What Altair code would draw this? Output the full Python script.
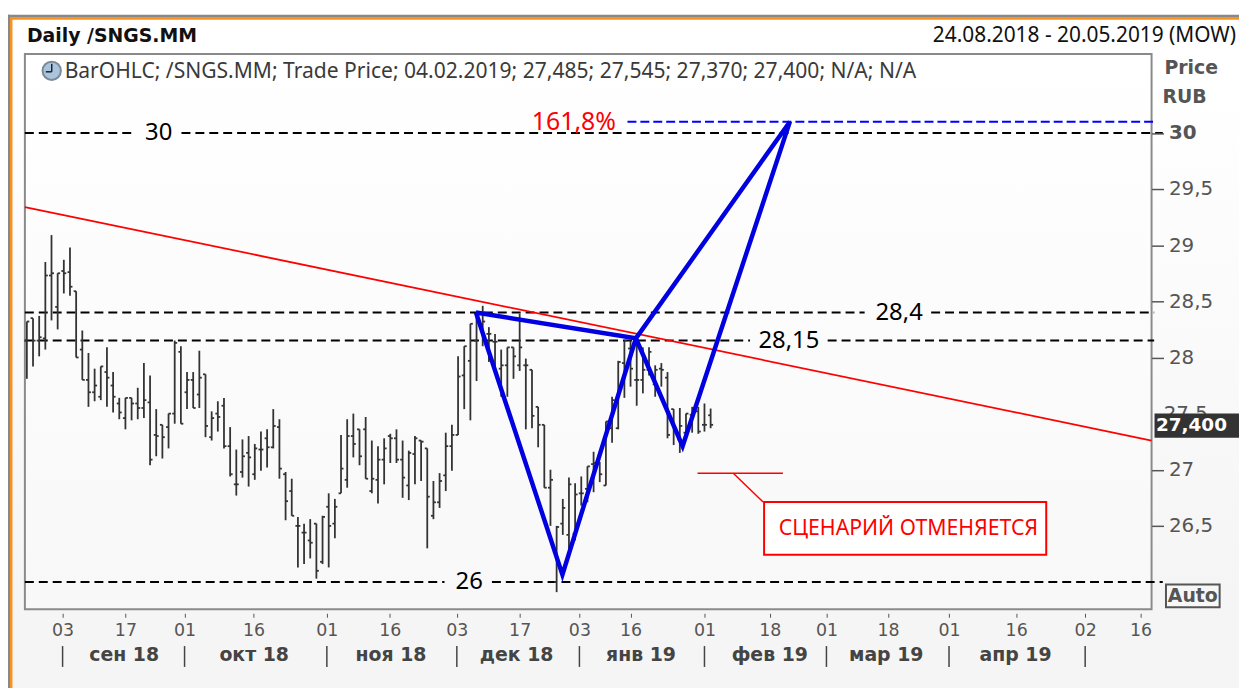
import altair as alt
import pandas as pd

# --- OHLC values (sessions 0..111) ---
opens = [28.15,28.35,28.15,28.17,28.73,28.45,28.77,28.76,28.59,28.07,27.80,27.69,27.65,27.87,27.75,27.59,27.46,27.64,27.59,27.55,
         27.60,27.31,27.40,27.38,27.50,28.05,27.69,27.80,27.67,27.85,27.29,27.50,27.57,27.21,26.87,26.98,27.15,26.96,27.18,27.28,
         27.20,27.38,26.96,26.81,26.50,26.44,26.37,26.52,26.18,26.67,26.52,26.79,26.91,27.30,27.36,27.36,26.81,26.91,27.09,27.30,
         27.28,27.09,26.86,27.14,27.26,27.19,26.59,26.71,26.95,27.21,27.31,27.84,27.97,28.15,28.39,28.21,28.14,27.90,27.93,28.09,
         27.93,27.93,27.89,27.56,27.40,26.84,26.00,26.52,26.42,26.43,26.79,26.83,27.05,27.06,26.86,27.37,27.37,27.95,28.08,27.80,
         27.80,27.89,27.76,27.90,27.82,27.54,27.27,27.33,27.49,27.52,27.40,27.485]
highs = [28.32,28.35,28.37,28.85,29.09,28.75,28.87,28.98,28.59,28.24,28.04,27.90,27.92,28.09,27.87,27.64,27.64,27.64,27.73,27.95,
         27.84,27.54,27.40,27.50,28.15,28.10,27.87,27.87,28.06,27.85,27.52,27.61,27.64,27.38,27.18,27.27,27.30,27.23,27.34,27.36,
         27.54,27.45,26.98,26.92,26.58,26.52,26.56,26.52,26.59,26.79,26.74,27.31,27.45,27.50,27.36,27.47,27.26,27.21,27.28,27.32,
         27.36,27.26,27.17,27.30,27.26,27.19,26.90,26.97,27.33,27.40,28.01,28.10,28.30,28.40,28.46,28.27,28.21,28.07,28.09,28.09,
         28.39,27.99,27.89,27.56,27.40,27.00,26.50,26.74,26.93,26.88,26.94,27.03,27.16,27.07,27.43,27.65,27.97,28.15,28.15,28.15,
         28.09,28.09,27.93,27.95,27.87,27.54,27.55,27.50,27.56,27.56,27.59,27.545]
lows = [27.81,27.92,28.01,28.07,28.33,28.25,28.57,28.55,28.00,27.80,27.56,27.61,27.62,27.56,27.51,27.45,27.36,27.44,27.45,27.46,
        27.04,27.12,27.10,27.19,27.41,27.41,27.54,27.55,27.55,27.29,27.26,27.34,27.19,26.94,26.77,26.93,26.85,26.91,26.99,27.02,
        27.19,26.92,26.55,26.59,26.13,26.16,26.21,26.03,26.16,26.13,26.39,26.79,26.84,27.11,27.04,26.92,26.79,26.70,26.87,27.06,
        27.06,26.75,26.73,26.87,26.90,26.30,26.56,26.66,26.81,26.99,27.31,27.54,27.44,27.79,28.10,27.96,27.90,27.65,27.65,27.81,
        27.88,27.36,27.37,27.20,26.84,26.50,25.91,26.42,26.27,26.37,26.68,26.71,26.80,26.89,26.86,27.24,27.36,27.64,27.74,27.57,
        27.68,27.84,27.65,27.74,27.28,27.22,27.15,27.27,27.33,27.32,27.34,27.37]
closes = [28.32,28.15,28.18,28.73,28.75,28.75,28.75,28.63,28.00,27.80,27.69,27.75,27.92,27.82,27.65,27.51,27.64,27.59,27.55,27.62,
          27.09,27.30,27.29,27.50,28.13,27.41,27.80,27.55,27.82,27.39,27.46,27.47,27.21,26.96,26.87,27.12,27.11,27.19,27.18,27.20,
          27.39,27.01,26.72,26.59,26.50,26.44,26.35,26.10,26.58,26.50,26.67,27.01,27.30,27.23,27.12,26.92,26.92,27.09,27.19,27.28,
          27.09,26.93,27.15,27.28,27.25,26.76,26.71,26.90,27.21,27.31,27.83,28.10,28.30,28.40,28.32,28.21,28.14,27.93,28.09,28.01,
          28.09,27.93,27.48,27.40,26.84,26.91,26.49,26.66,26.87,26.78,26.79,27.03,27.06,26.96,27.43,27.62,27.96,28.15,27.90,27.80,
          27.89,28.05,27.89,27.89,27.31,27.37,27.39,27.50,27.52,27.34,27.40,27.40]
sessions = list(range(len(opens)))

# --- axes ---
day_ticks = [5.8,16,25.6,36.8,48.7,58.9,69.8,80,89.7,98,110,120.6,129.8,139.8,149.7,160.6,171.8,180.8]
day_labels = ["03","17","01","16","01","16","03","17","03","16","01","18","01","18","01","16","02","16"]
month_seps = [5.8,25.6,48.7,69.8,89.7,110,129.8,149.7,171.8]
month_centers = [15.8,36.9,59.1,79.5,99.7,120.6,139.5,160.5]
month_labels = ["сен 18","окт 18","ноя 18","дек 18","янв 19","фев 19","мар 19","апр 19"]
price_ticks = [26.5,27,28,28.5,29,29.5,30]
hidden_tick = [27.5]
hidden_tick_text = ["27,5"]

# --- drawn levels ---
level_price = [30,30,28.4,28.4,28.15,28.15,26,26]
level_from = [-0.32,25.1,-0.32,146.8,-0.32,130,-0.32,75.5]
level_to = [17.6,184.4,136,183,117.4,183,67.8,184.4]
level_text = ["30","28,4","28,15","26"]
level_text_x = [21.4,141.6,123.7,71.8]
level_text_y = [30,28.4,28.15,26]

trend_x = [-0.32,182.58]
trend_y = [29.34,27.26]
wave_x = [72.9,86.94,98.87,123.87,106.45,98.87,72.9]
wave_y = [28.4,26.066,28.17,30.10,27.21,28.17,28.4]
fib_x = [97.5,183]
fib_y = [30.10,30.10]

XD = [-0.32,182.58]
YD = [25.757,30.7035]
xs = alt.Scale(domain=XD, nice=False, zero=False)
ys = alt.Scale(domain=YD, nice=False, zero=False)
GREY = "#555555"
FONT = "DejaVu Sans"


def px(v):
    return alt.value(v - 25)


def py(v):
    return alt.value(v - 52)


def grad(stops):
    return alt.Gradient(gradient="linear", x1=0, x2=0, y1=0, y2=1,
                        stops=[alt.GradientStop(color=c, offset=o) for c, o in stops])


def box(x0, x1, y0, y1, **kw):
    return alt.Chart(pd.DataFrame({"a": [0]})).mark_rect(**kw).encode(
        x=px(x0), x2=px(x1), y=py(y0), y2=py(y1))


def label(text, x, y, **kw):
    kw.setdefault("font", FONT)
    return alt.Chart(pd.DataFrame({"t": [text]})).mark_text(**kw).encode(
        text="t:N", x=px(x), y=py(y))


x_axis = alt.Axis(values=day_ticks, title=None, grid=False, domain=False, tickSize=4, tickColor=GREY, tickWidth=1,
                  offset=4, labelPadding=4, labelFont=FONT, labelFontSize=17.5, labelColor=GREY, labelOverlap=False,
                  labelExpr="%s[indexof(%s, datum.value)]" % (day_labels, day_ticks), labelBound=False, labelFlush=False,
                  zindex=1)
y_axis = alt.Axis(orient="right", values=price_ticks, title=None, grid=False, domain=False, tickSize=12,
                  tickColor=GREY, tickWidth=1.5, labelPadding=5, labelFont=FONT, labelFontSize=20, labelColor=GREY,
                  labelOverlap=False, labelBound=False, labelFlush=False, zindex=1,
                  labelFontWeight=alt.expr("datum.value == 30 ? 'bold' : 'normal'"),
                  labelExpr="replace(toString(datum.value), '.', ',')")


def X(f):
    return alt.X(f, scale=xs, axis=x_axis)


def Y(f):
    return alt.Y(f, scale=ys, axis=y_axis)


df = pd.DataFrame({"s": sessions, "o": opens, "h": highs, "l": lows, "c": closes})

# chrome behind the plot
page_bg = box(8, 1247, 17, 696, fill=grad([("#ffffff", 0), ("#ffffff", 0.1), ("#f5f5f5", 0.85), ("#f5f5f5", 1)]))
frame_top = box(8, 1247, 12.5, 15.5, fill="#888888")
frame_top2 = box(10, 1247, 15.5, 17.5, fill="#f7931e")
frame_left = box(8, 10, 12.5, 696, fill="#888888")
frame_left2 = box(10, 12.5, 15.5, 696, fill="#f7931e")
panel = box(25, 1159, 52, 611, fill=grad([("#ffffff", 0), ("#f8f8f8", 1)]), stroke="#8a8a8a", strokeWidth=2)

# levels
lev = alt.Chart(pd.DataFrame({"x": level_from, "x2": level_to, "y": level_price})).mark_rule(
    color="#000000", strokeWidth=2, strokeDash=[9, 5]).encode(x=X("x:Q"), x2="x2:Q", y=Y("y:Q"))
lev_txt = alt.Chart(pd.DataFrame({"t": level_text, "x": level_text_x, "y": level_text_y})).mark_text(
    font="Noto Sans", fontSize=24, color="#000000").encode(x=X("x:Q"), y=Y("y:Q"), text="t:N")

# OHLC bars
BAR = dict(color="#333333", strokeWidth=1.8)
hl = alt.Chart(df).mark_rule(**BAR).encode(x=X("s:Q"), y=Y("l:Q"), y2="h:Q")
op = alt.Chart(df).transform_calculate(a="datum.s-0.4").mark_rule(**BAR).encode(x=X("a:Q"), x2="s:Q", y=Y("o:Q"))
cl = alt.Chart(df).transform_calculate(b="datum.s+0.4").mark_rule(**BAR).encode(x=X("s:Q"), x2="b:Q", y=Y("c:Q"))

# trend line, fib level, wave
trend = alt.Chart(pd.DataFrame({"x": trend_x, "y": trend_y})).mark_line(color="#ff0000", strokeWidth=1.8).encode(
    x=X("x:Q"), y=Y("y:Q"))
fib = alt.Chart(pd.DataFrame({"x": fib_x, "y": fib_y})).mark_line(color="#0000ff", strokeWidth=2, strokeDash=[9, 4]).encode(
    x=X("x:Q"), y=Y("y:Q"))
wave = alt.Chart(pd.DataFrame({"x": wave_x, "y": wave_y, "k": list(range(len(wave_x)))})).mark_line(
    color="#0000e0", strokeWidth=4.5, strokeJoin="miter").encode(x=X("x:Q"), y=Y("y:Q"), order="k:Q")
fib_txt = alt.Chart(pd.DataFrame({"t": ["161,8%"], "x": [88.8], "y": [30.10]})).mark_text(
    font="Noto Sans", fontSize=25, color="#ff0000").encode(x=X("x:Q"), y=Y("y:Q"), text="t:N")

# "scenario cancelled" callout
call_a = alt.Chart(pd.DataFrame({"x": [108.87], "x2": [122.74], "y": [26.969]})).mark_rule(
    color="#ff0000", strokeWidth=1.5).encode(x=X("x:Q"), x2="x2:Q", y=Y("y:Q"))
call_b = alt.Chart(pd.DataFrame({"x": [114.68, 119.52], "y": [26.969, 26.712]})).mark_line(
    color="#ff0000", strokeWidth=1.5).encode(x=X("x:Q"), y=Y("y:Q"))
call_box = alt.Chart(pd.DataFrame({"x": [119.68], "x2": [165.48], "y": [26.712], "y2": [26.243]})).mark_rect(
    fill="#ffffff", stroke="#ff0000", strokeWidth=2).encode(x=X("x:Q"), x2="x2:Q", y=Y("y:Q"), y2="y2:Q")
call_txt = alt.Chart(pd.DataFrame({"t": ["СЦЕНАРИЙ ОТМЕНЯЕТСЯ"], "x": [143.1], "y": [26.475]})).mark_text(
    font="Noto Sans", fontSize=21.4, color="#ff0000").encode(x=X("x:Q"), y=Y("y:Q"), text="t:N")

# 27,5 label lies under the last-price tag, so it is drawn before it
under_tag = alt.Chart(pd.DataFrame({"t": hidden_tick_text, "x": [184.55], "y": hidden_tick})).mark_text(
    font=FONT, fontSize=20, color=GREY, align="left").encode(x=X("x:Q"), y=Y("y:Q"), text="t:N")

# last-price tag
tag = alt.Chart(pd.DataFrame({"x": [183.06], "x2": [197], "y": [27.5], "y2": [27.285]})).mark_rect(fill="#333333").encode(
    x=X("x:Q"), x2="x2:Q", y=Y("y:Q"), y2="y2:Q")
tag_txt = alt.Chart(pd.DataFrame({"t": ["27,400"], "x": [183.3], "y": [27.4]})).mark_text(
    font=FONT, fontWeight="bold", fontSize=18.5, color="#ffffff", align="left").encode(x=X("x:Q"), y=Y("y:Q"), text="t:N")

# month band
seps = alt.Chart(pd.DataFrame({"x": month_seps})).mark_rule(color="#444444", strokeWidth=1.5).encode(
    x=X("x:Q"), y=py(648), y2=py(669))
months = alt.Chart(pd.DataFrame({"t": month_labels, "x": month_centers})).mark_text(
    font=FONT, fontWeight="bold", fontSize=19, color="#444444").encode(x=X("x:Q"), y=py(657), text="t:N")

# clock
clock = alt.Chart(pd.DataFrame({"a": [0]})).mark_circle(size=340, fill="#a9c5de", stroke="#7d8a96", strokeWidth=2, opacity=1).encode(
    x=px(52), y=py(69))
hand1 = alt.Chart(pd.DataFrame({"a": [0]})).mark_rule(color="#222222", strokeWidth=1.5).encode(x=px(52), y=py(62), y2=py(70))
hand2 = alt.Chart(pd.DataFrame({"a": [0]})).mark_rule(color="#222222", strokeWidth=1.5).encode(x=px(46), x2=px(52), y=py(70))

texts = [
    label("Daily /SNGS.MM", 27, 34, fontSize=19, fontWeight="bold", color="#111111", align="left"),
    label("24.08.2018 - 20.05.2019 (MOW)", 1244, 34, font="Noto Sans", fontSize=21, color="#111111", align="right"),
    label("BarOHLC; /SNGS.MM; Trade Price; 04.02.2019; 27,485; 27,545; 27,370; 27,400; N/A; N/A",
          65, 70, font="Noto Sans", fontSize=21.2, color="#3a3a3a", align="left"),
    label("Price", 1172, 66, fontSize=19, fontWeight="bold", color=GREY, align="left"),
    label("RUB", 1170, 95, fontSize=19, fontWeight="bold", color=GREY, align="left"),
    box(1173.5, 1227.5, 586, 609, fill="#f7f7f7", stroke=GREY, strokeWidth=2),
    label("Auto", 1200.5, 598, fontSize=19, fontWeight="bold", color=GREY),
]

chart = alt.layer(
    page_bg, frame_top, frame_top2, frame_left, frame_left2, panel,
    lev, hl, op, cl, trend, fib, wave, fib_txt, lev_txt,
    call_a, call_b, call_box, call_txt, under_tag, tag, tag_txt, seps, months, clock, hand1, hand2, *texts
).properties(
    width=1134, height=559, background="#ffffff",
    padding={"left": 17, "right": 88, "top": 44, "bottom": 77},
    autosize=alt.AutoSizeParams(type="none"),
).configure_view(stroke=None)

chart.save("out.html", embed_options={"renderer": "svg", "actions": False})
